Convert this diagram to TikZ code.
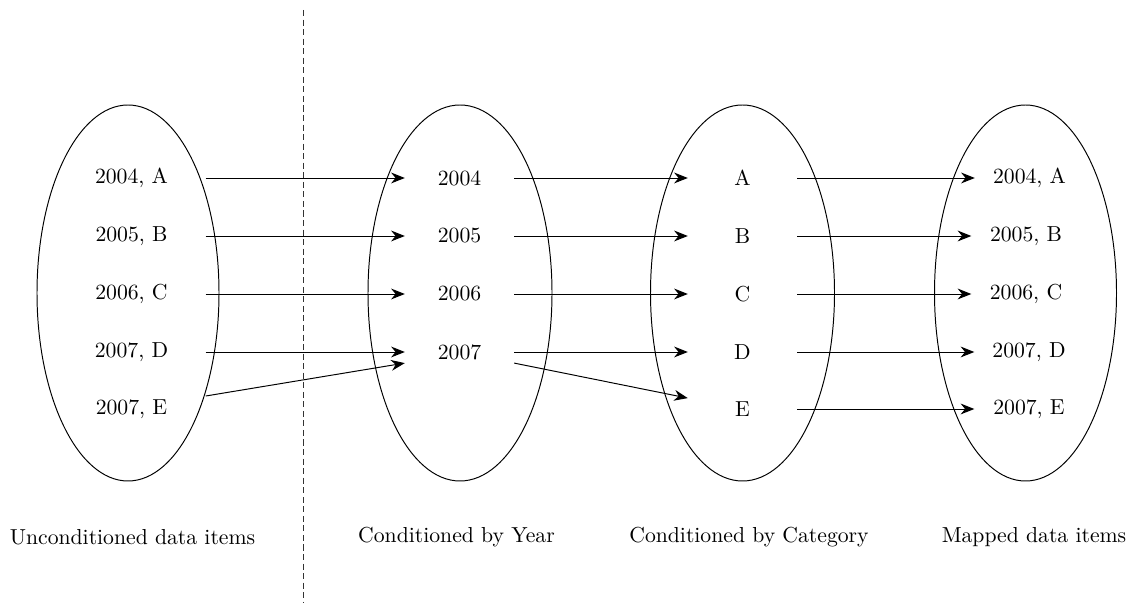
\documentclass[tikz,border=0pt]{standalone}
\usetikzlibrary{arrows.meta}

\tikzset{every picture/.style={line width=0.45pt},
  item/.style={inner sep=1.4pt, minimum width=50pt},
  rawitem/.style={inner sep=1.4pt, minimum width=68pt},
  map/.style={-{Stealth[length=6.3pt,width=5pt]}}}

\begin{document}
\begin{tikzpicture}[x=0.461pt,y=0.461pt,yscale=-1,xscale=1]
\useasboundingbox (0,0) rectangle (1133,603);

%Shape: Ellipse, one per set
\draw (128,293) ellipse [x radius=91, y radius=188];
\draw (460,293) ellipse [x radius=92, y radius=188];
\draw (742.5,293) ellipse [x radius=92, y radius=188];
\draw (1025.5,293) ellipse [x radius=91, y radius=188];

%Straight Lines: separator
\draw [line width=0.35pt, black!80, dash pattern=on 2.8pt off 1.6pt] (303,10) -- (303,603);

% Text Node: unconditioned items
\node [rawitem] (u1) at (131.5,178) {2004, A};
\node [rawitem] (u2) at (131.5,236) {2005, B};
\node [rawitem] (u3) at (131.5,294) {2006, C};
\node [rawitem] (u4) at (131.5,352) {2007, D};
\node [rawitem] (u5) at (131.5,409) {2007, E};
% Text Node: years
\node [item] (y4) at (459.5,178) {2004};
\node [item] (y5) at (459.5,236) {2005};
\node [item] (y6) at (459.5,294) {2006};
\node [item] (y7) at (459.5,352) {2007};
% Text Node: categories
\node [item] (cA) at (742.5,178) {A};
\node [item] (cB) at (742.5,236) {B};
\node [item] (cC) at (742.5,294) {C};
\node [item] (cD) at (742.5,352) {D};
\node [item] (cE) at (742.5,409) {E};
% Text Node: mapped items
\node [item] (m1) at (1029.5,178) {2004, A};
\node [item] (m2) at (1026,236) {2005, B};
\node [item] (m3) at (1026,294) {2006, C};
\node [item] (m4) at (1029,352) {2007, D};
\node [item] (m5) at (1029,409) {2007, E};

%Straight Lines: conditioning arrows
\draw [map] (u1.east) -- (y4.west);
\draw [map] (u2.east) -- (y5.west);
\draw [map] (u3.east) -- (y6.west);
\draw [map] (u4.east) -- (y7.west);
\draw [map] (u5.north east) -- (y7.south west);
\draw [map] (y4.east) -- (cA.west);
\draw [map] (y5.east) -- (cB.west);
\draw [map] (y6.east) -- (cC.west);
\draw [map] (y7.east) -- (cD.west);
\draw [map] (y7.south east) -- (cE.north west);
\draw [map] (cA.east) -- (m1.west);
\draw [map] (cB.east) -- (m2.west);
\draw [map] (cC.east) -- (m3.west);
\draw [map] (cD.east) -- (m4.west);
\draw [map] (cE.east) -- (m5.west);

% Text Node: captions
\node (capU) at (132.5,537) {Unconditioned data items};
\node (capY) at (456.5,537) {Conditioned by Year};
\node (capC) at (749,537) {Conditioned by Category};
\node (capM) at (1034,537) {Mapped data items};
\end{tikzpicture}
\end{document}
